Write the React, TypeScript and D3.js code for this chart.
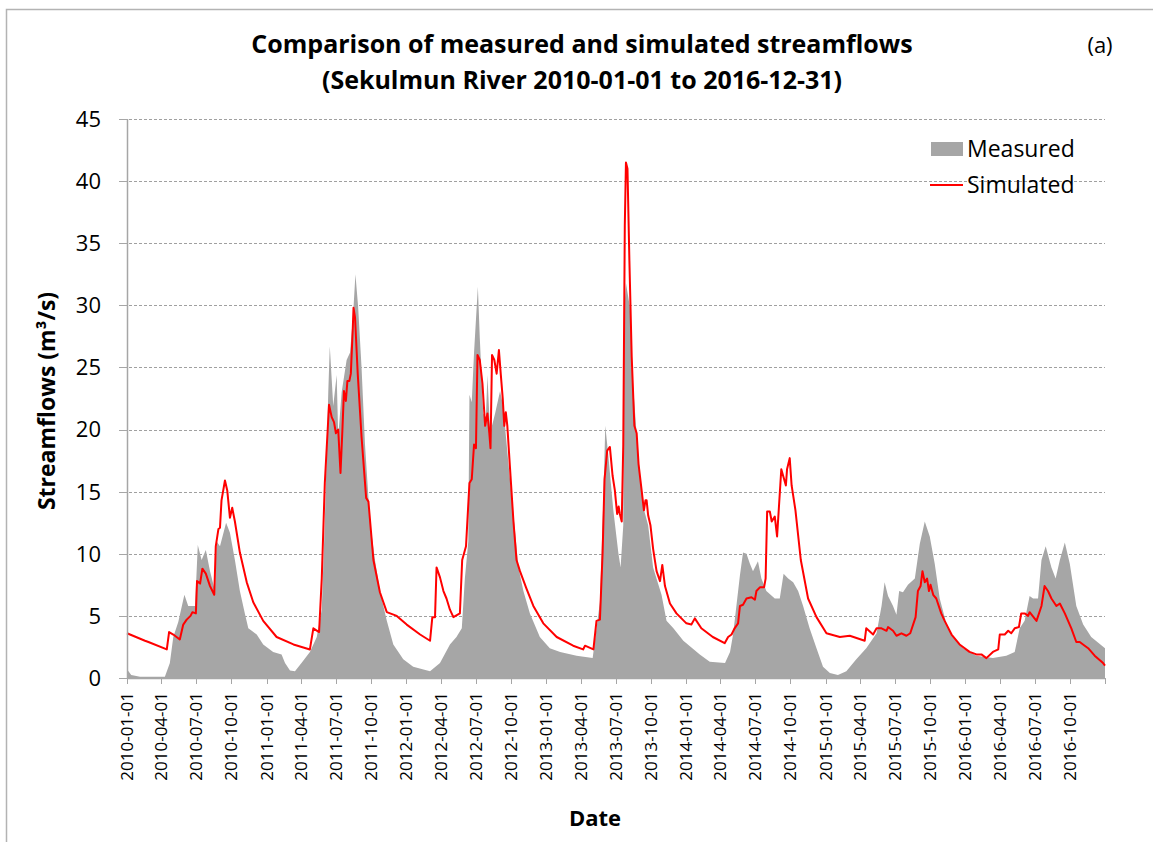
import React, { useMemo } from "react";
import * as d3 from "d3";

const measured: [string, number][] = [
  ["2010-01-01", 0.7], ["2010-01-12", 0.25], ["2010-02-04", 0.1], ["2010-04-10", 0.1],
  ["2010-04-23", 1.2], ["2010-05-02", 3.3], ["2010-05-15", 4.5], ["2010-05-31", 6.7],
  ["2010-06-10", 5.8], ["2010-06-28", 5.8], ["2010-07-05", 10.7], ["2010-07-15", 9.5],
  ["2010-07-26", 10.3], ["2010-08-06", 8.6], ["2010-08-19", 7], ["2010-08-23", 11],
  ["2010-09-01", 10.6], ["2010-09-17", 12.5], ["2010-09-27", 11.7], ["2010-10-10", 9.5],
  ["2010-10-23", 7], ["2010-11-05", 5.2], ["2010-11-14", 4], ["2010-11-23", 3.8],
  ["2010-12-06", 3.5], ["2010-12-23", 2.7], ["2011-01-18", 2.1], ["2011-02-09", 1.9],
  ["2011-02-18", 1.2], ["2011-03-03", 0.6], ["2011-03-16", 0.55], ["2011-04-02", 1.2],
  ["2011-04-24", 2.1], ["2011-05-12", 3.3], ["2011-05-25", 5.5], ["2011-06-02", 12.6],
  ["2011-06-11", 23], ["2011-06-15", 26.7], ["2011-06-24", 21.9], ["2011-07-03", 24.4],
  ["2011-07-07", 19.4], ["2011-07-16", 23], ["2011-07-29", 25.6], ["2011-08-07", 26.2],
  ["2011-08-15", 29.3], ["2011-08-21", 32.5], ["2011-08-28", 29.9], ["2011-09-06", 25],
  ["2011-09-15", 18.8], ["2011-09-28", 12.6], ["2011-10-11", 9.5], ["2011-10-24", 7],
  ["2011-11-11", 4.6], ["2011-11-28", 2.7], ["2011-12-24", 1.5], ["2012-01-19", 0.9],
  ["2012-03-03", 0.55], ["2012-03-29", 1.2], ["2012-04-24", 2.7], ["2012-05-11", 3.3],
  ["2012-05-25", 4], ["2012-06-02", 8], ["2012-06-11", 11], ["2012-06-14", 22.8],
  ["2012-06-20", 22.2], ["2012-06-26", 26.2], ["2012-07-06", 31.5], ["2012-07-11", 27.4],
  ["2012-07-20", 21.3], ["2012-07-27", 21], ["2012-07-31", 24.4], ["2012-08-07", 19.7],
  ["2012-08-20", 21.3], ["2012-09-02", 23.1], ["2012-09-10", 21.9], ["2012-09-24", 17.2],
  ["2012-10-07", 13.2], ["2012-10-20", 8.9], ["2012-11-02", 7], ["2012-11-19", 5.2],
  ["2012-12-15", 3.3], ["2013-01-10", 2.4], ["2013-02-06", 2.1], ["2013-03-21", 1.8],
  ["2013-05-02", 1.6], ["2013-05-12", 4], ["2013-05-21", 6.1], ["2013-05-30", 14.5],
  ["2013-06-04", 20.3], ["2013-06-12", 17.9], ["2013-06-25", 13.5], ["2013-07-08", 10.1],
  ["2013-07-14", 8.9], ["2013-07-21", 12.3], ["2013-07-23", 29.3], ["2013-07-28", 31.8],
  ["2013-08-07", 29.9], ["2013-08-16", 23.4], ["2013-08-29", 17.9], ["2013-09-11", 13.8],
  ["2013-09-24", 12.3], ["2013-10-07", 8.9], ["2013-10-29", 6.7], ["2013-11-11", 4.6],
  ["2013-11-29", 4], ["2013-12-25", 3], ["2014-02-06", 1.9], ["2014-03-04", 1.3],
  ["2014-04-13", 1.2], ["2014-04-26", 2.1], ["2014-05-04", 3.5], ["2014-05-22", 8.3],
  ["2014-05-30", 10.1], ["2014-06-08", 10], ["2014-06-17", 9.2], ["2014-06-25", 8.6],
  ["2014-07-08", 9.4], ["2014-07-17", 8], ["2014-07-30", 7], ["2014-08-21", 6.4],
  ["2014-09-03", 6.4], ["2014-09-13", 8.4], ["2014-09-25", 8], ["2014-10-08", 7.7],
  ["2014-10-21", 7], ["2014-11-03", 5.8], ["2014-11-20", 4], ["2014-12-08", 2.4],
  ["2014-12-25", 0.9], ["2015-01-12", 0.4], ["2015-02-02", 0.25], ["2015-02-24", 0.55],
  ["2015-03-22", 1.5], ["2015-04-17", 2.4], ["2015-05-14", 3.6], ["2015-05-27", 5.8],
  ["2015-06-04", 7.7], ["2015-06-13", 6.6], ["2015-06-26", 5.8], ["2015-07-05", 5.1],
  ["2015-07-12", 7], ["2015-07-22", 6.9], ["2015-08-04", 7.5], ["2015-08-22", 8],
  ["2015-09-04", 10.8], ["2015-09-17", 12.6], ["2015-09-30", 11.4], ["2015-10-13", 9.2],
  ["2015-10-26", 6.4], ["2015-11-13", 4.3], ["2015-11-30", 3.3], ["2015-12-26", 2.4],
  ["2016-01-30", 1.8], ["2016-03-13", 1.6], ["2016-04-17", 1.8], ["2016-05-09", 2.1],
  ["2016-05-22", 4], ["2016-06-04", 4.6], ["2016-06-17", 6.6], ["2016-06-26", 6.4],
  ["2016-07-09", 6.4], ["2016-07-18", 9.5], ["2016-07-29", 10.6], ["2016-08-13", 8.9],
  ["2016-08-24", 8], ["2016-09-04", 9.5], ["2016-09-17", 10.9], ["2016-09-30", 9.2],
  ["2016-10-17", 5.8], ["2016-11-04", 4.3], ["2016-11-25", 3.3], ["2016-12-31", 2.4],
];

const simulated: [string, number][] = [
  ["2010-01-01", 3.6], ["2010-02-17", 3.0], ["2010-02-26", 2.9], ["2010-04-15", 2.3],
  ["2010-04-21", 3.7], ["2010-05-02", 3.5], ["2010-05-19", 3.1], ["2010-05-28", 4.3],
  ["2010-06-06", 4.7], ["2010-06-16", 5.0], ["2010-06-21", 5.3], ["2010-06-30", 5.2],
  ["2010-07-03", 7.8], ["2010-07-11", 7.6], ["2010-07-17", 8.8], ["2010-07-26", 8.4],
  ["2010-08-06", 7.4], ["2010-08-17", 6.7], ["2010-08-21", 10.6], ["2010-08-28", 12.0],
  ["2010-09-01", 12.1], ["2010-09-05", 14.3], ["2010-09-14", 15.9], ["2010-09-20", 15.1],
  ["2010-09-27", 12.9], ["2010-10-03", 13.7], ["2010-10-10", 12.6], ["2010-10-23", 10.1],
  ["2010-11-10", 7.7], ["2010-11-27", 6.1], ["2010-12-23", 4.6], ["2011-01-27", 3.3],
  ["2011-03-12", 2.7], ["2011-04-24", 2.3], ["2011-05-03", 4.0], ["2011-05-18", 3.7],
  ["2011-05-25", 8.0], ["2011-06-02", 15.7], ["2011-06-13", 22.0], ["2011-06-20", 21.0],
  ["2011-06-26", 20.6], ["2011-07-01", 19.7], ["2011-07-07", 20.0], ["2011-07-13", 16.5],
  ["2011-07-18", 20.0], ["2011-07-22", 23.1], ["2011-07-27", 22.3], ["2011-07-31", 23.9],
  ["2011-08-05", 23.9], ["2011-08-09", 24.5], ["2011-08-14", 28.1], ["2011-08-16", 29.8],
  ["2011-08-20", 29.0], ["2011-08-27", 24.5], ["2011-09-06", 19.4], ["2011-09-18", 14.5],
  ["2011-09-24", 14.2], ["2011-10-07", 9.5], ["2011-10-24", 6.9], ["2011-11-11", 5.3],
  ["2011-12-07", 5.0], ["2012-01-02", 4.3], ["2012-02-06", 3.5], ["2012-03-03", 3.0],
  ["2012-03-09", 4.9], ["2012-03-16", 4.9], ["2012-03-20", 8.9], ["2012-03-29", 8.1],
  ["2012-04-07", 7.0], ["2012-04-15", 6.4], ["2012-04-24", 5.5], ["2012-05-03", 4.9],
  ["2012-05-20", 5.2], ["2012-05-26", 9.5], ["2012-06-05", 10.6], ["2012-06-14", 15.7],
  ["2012-06-20", 16.0], ["2012-06-26", 18.8], ["2012-07-01", 18.5], ["2012-07-05", 26.0],
  ["2012-07-11", 25.6], ["2012-07-18", 23.7], ["2012-07-25", 20.3], ["2012-07-31", 21.3],
  ["2012-08-05", 19.7], ["2012-08-08", 18.5], ["2012-08-12", 26.0], ["2012-08-18", 25.6],
  ["2012-08-24", 24.5], ["2012-08-30", 26.4], ["2012-09-04", 24.4], ["2012-09-09", 22.5],
  ["2012-09-13", 20.3], ["2012-09-17", 21.4], ["2012-09-21", 20.3], ["2012-09-28", 16.9],
  ["2012-10-07", 12.6], ["2012-10-15", 9.5], ["2012-10-24", 8.6], ["2012-11-10", 7.2],
  ["2012-11-28", 5.8], ["2012-12-24", 4.4], ["2013-01-28", 3.3], ["2013-03-12", 2.6],
  ["2013-04-07", 2.3], ["2013-04-12", 2.6], ["2013-05-04", 2.3], ["2013-05-12", 4.6],
  ["2013-05-21", 4.7], ["2013-05-28", 10.1], ["2013-06-02", 16.0], ["2013-06-09", 18.3],
  ["2013-06-16", 18.6], ["2013-06-23", 16.3], ["2013-06-29", 15.1], ["2013-07-05", 13.2],
  ["2013-07-09", 13.8], ["2013-07-12", 13.2], ["2013-07-17", 12.6], ["2013-07-21", 18.8],
  ["2013-07-25", 36.4], ["2013-07-28", 41.5], ["2013-08-01", 41.0], ["2013-08-06", 33.6],
  ["2013-08-12", 25.9], ["2013-08-19", 20.3], ["2013-08-25", 19.7], ["2013-08-30", 17.2],
  ["2013-09-07", 15.1], ["2013-09-13", 13.5], ["2013-09-17", 14.3], ["2013-09-20", 14.3],
  ["2013-09-24", 13.1], ["2013-09-30", 12.3], ["2013-10-07", 10.4], ["2013-10-16", 8.6],
  ["2013-10-25", 7.8], ["2013-10-31", 9.1], ["2013-11-07", 7.4], ["2013-11-20", 6.0],
  ["2013-12-07", 5.2], ["2014-01-02", 4.4], ["2014-01-15", 4.3], ["2014-01-24", 4.8],
  ["2014-02-10", 4.0], ["2014-03-12", 3.3], ["2014-04-12", 2.8], ["2014-04-21", 3.3],
  ["2014-04-30", 3.5], ["2014-05-08", 4.0], ["2014-05-17", 4.4], ["2014-05-22", 5.8],
  ["2014-05-30", 5.9], ["2014-06-08", 6.4], ["2014-06-21", 6.5], ["2014-06-30", 6.3],
  ["2014-07-04", 7.0], ["2014-07-13", 7.3], ["2014-07-24", 7.3], ["2014-07-28", 8.0],
  ["2014-08-01", 13.4], ["2014-08-08", 13.4], ["2014-08-13", 12.6], ["2014-08-21", 13.0],
  ["2014-08-27", 11.4], ["2014-09-07", 16.8], ["2014-09-19", 15.5], ["2014-09-22", 16.8],
  ["2014-09-29", 17.7], ["2014-10-04", 15.5], ["2014-10-14", 13.5], ["2014-10-28", 9.5],
  ["2014-11-16", 6.4], ["2014-12-08", 4.9], ["2015-01-03", 3.6], ["2015-02-07", 3.3],
  ["2015-03-05", 3.4], ["2015-04-13", 3.0], ["2015-04-17", 4.0], ["2015-05-05", 3.5],
  ["2015-05-14", 4.0], ["2015-05-27", 4.0], ["2015-06-09", 3.8], ["2015-06-13", 4.1],
  ["2015-06-26", 3.8], ["2015-07-05", 3.4], ["2015-07-18", 3.6], ["2015-07-31", 3.4],
  ["2015-08-10", 3.6], ["2015-08-24", 4.9], ["2015-08-30", 7.0], ["2015-09-06", 7.4],
  ["2015-09-11", 8.6], ["2015-09-17", 7.7], ["2015-09-23", 8.0], ["2015-09-28", 7.0],
  ["2015-10-02", 7.5], ["2015-10-09", 6.7], ["2015-10-17", 6.4], ["2015-10-30", 5.2],
  ["2015-11-08", 4.6], ["2015-11-26", 3.5], ["2015-12-17", 2.7], ["2016-01-12", 2.1],
  ["2016-01-30", 1.9], ["2016-02-12", 1.9], ["2016-02-25", 1.6], ["2016-03-13", 2.1],
  ["2016-03-27", 2.3], ["2016-03-31", 3.5], ["2016-04-13", 3.5], ["2016-04-22", 3.8],
  ["2016-04-30", 3.6], ["2016-05-09", 4.0], ["2016-05-20", 4.1], ["2016-05-26", 5.2],
  ["2016-06-04", 5.2], ["2016-06-13", 5.0], ["2016-06-17", 5.3], ["2016-07-05", 4.6],
  ["2016-07-18", 5.8], ["2016-07-26", 7.4], ["2016-08-04", 7.0], ["2016-08-13", 6.4],
  ["2016-08-26", 5.8], ["2016-09-04", 6.0], ["2016-09-17", 5.2], ["2016-10-04", 4.0],
  ["2016-10-17", 2.9], ["2016-10-26", 2.9], ["2016-11-08", 2.6], ["2016-11-17", 2.4],
  ["2016-12-04", 1.8], ["2016-12-26", 1.2], ["2016-12-31", 1.0],
];

const yTicks = [0, 5, 10, 15, 20, 25, 30, 35, 40, 45];
const dateDomain = ["2010-01-01", "2016-12-31"];
const titleLines = [
  "Comparison of measured and simulated streamflows",
  "(Sekulmun River 2010-01-01 to 2016-12-31)",
];
const seriesNames = ["Measured", "Simulated"];

const FONT = "'Open Sans', 'DejaVu Sans', sans-serif";
const W = 1153;
const H = 842;
const M = { left: 127, right: 1105, top: 119, bottom: 678 };

export default function App() {
  const parse = d3.utcParse("%Y-%m-%d");
  const fmt = d3.utcFormat("%Y-%m-%d");

  const x = d3
    .scaleUtc()
    .domain(dateDomain.map((s) => parse(s) as Date))
    .range([M.left, M.right]);
  const y = d3.scaleLinear().domain([0, 45]).range([M.bottom, M.top]);

  const mData = useMemo(() => measured.map(([d, v]) => ({ d: parse(d) as Date, v })), []);
  const sData = useMemo(() => simulated.map(([d, v]) => ({ d: parse(d) as Date, v })), []);

  const area = d3
    .area<{ d: Date; v: number }>()
    .x((p) => x(p.d))
    .y0(y(0))
    .y1((p) => y(p.v));
  const line = d3
    .line<{ d: Date; v: number }>()
    .x((p) => x(p.d))
    .y((p) => y(p.v));

  const xTicks = d3.utcMonth
    .every(3)!
    .range(parse("2010-01-01") as Date, parse("2016-12-31") as Date);
  const xTickMarks = [...xTicks, parse("2016-12-31") as Date];

  const axisColor = "#a6a6a6";

  return (
    <svg
      width={W}
      height={H}
      style={{ position: "absolute", left: 0, top: 0, background: "#fff" }}
      fontFamily={FONT}
    >
      <rect x={6.5} y={9.5} width={W + 20} height={H + 20} fill="#fff" stroke="#b3b3b3" strokeWidth={1.5} />

      {/* gridlines */}
      {yTicks.map((t) => (
        <line
          key={"g" + t}
          x1={M.left - 8}
          x2={M.right}
          y1={Math.round(y(t)) + 0.5}
          y2={Math.round(y(t)) + 0.5}
          stroke="#a0a0a0"
          strokeWidth={1}
          strokeDasharray={t === 0 ? undefined : "3 2"}
        />
      ))}

      <path d={area(mData) || ""} fill="#a6a6a6" />
      <path d={line(sData) || ""} fill="none" stroke="#ff0000" strokeWidth={2} strokeLinejoin="round" />

      {/* axes */}
      <line x1={M.left + 0.5} x2={M.left + 0.5} y1={M.top} y2={M.bottom} stroke={axisColor} strokeWidth={1.5} />
      <line x1={M.left} x2={M.right} y1={M.bottom + 0.5} y2={M.bottom + 0.5} stroke={axisColor} strokeWidth={1.5} />
      {yTicks.map((t) => (
        <line key={"yt" + t} x1={M.left - 8} x2={M.left} y1={Math.round(y(t)) + 0.5} y2={Math.round(y(t)) + 0.5} stroke={axisColor} strokeWidth={1} />
      ))}
      {xTickMarks.map((d, i) => (
        <line key={"xt" + i} x1={Math.round(x(d)) + 0.5} x2={Math.round(x(d)) + 0.5} y1={M.bottom} y2={M.bottom + 6} stroke={axisColor} strokeWidth={1} />
      ))}

      {/* y tick labels */}
      {yTicks.map((t) => (
        <text key={"yl" + t} x={101} y={y(t)} dy="0.36em" textAnchor="end" fontSize={22} fill="#000">
          {t}
        </text>
      ))}

      {/* x tick labels */}
      {xTicks.map((d, i) => (
        <text
          key={"xl" + i}
          transform={`translate(${x(d) + 6},${692}) rotate(-90)`}
          textAnchor="end"
          fontSize={17}
          fill="#000"
        >
          {fmt(d)}
        </text>
      ))}

      {/* titles */}
      <text x={582} y={53} textAnchor="middle" fontSize={25} fontWeight="bold" fill="#000">
        {titleLines[0]}
      </text>
      <text x={582} y={89} textAnchor="middle" fontSize={25} fontWeight="bold" fill="#000">
        {titleLines[1]}
      </text>
      <text x={1100} y={53} textAnchor="middle" fontSize={22} fill="#000">
        (a)
      </text>
      <text
        transform={`translate(55,401) rotate(-90)`}
        textAnchor="middle"
        fontSize={23}
        fontWeight="bold"
        fill="#000"
      >
        Streamflows (m³/s)
      </text>
      <text x={595} y={826} textAnchor="middle" fontSize={22} fontWeight="bold" fill="#000">
        Date
      </text>

      {/* legend */}
      <rect x={931} y={142} width={32} height={14} fill="#a6a6a6" />
      <text x={967} y={157} fontSize={23} fill="#000">
        {seriesNames[0]}
      </text>
      <line x1={930} x2={963} y1={185} y2={185} stroke="#ff0000" strokeWidth={2} />
      <text x={967} y={193} fontSize={23} fill="#000">
        {seriesNames[1]}
      </text>
    </svg>
  );
}
